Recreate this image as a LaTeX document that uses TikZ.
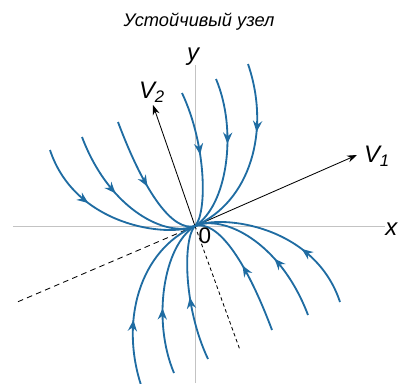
\documentclass[tikz,border=0pt]{standalone}
\usepackage{fontspec}
\setmainfont{Liberation Sans}
\usetikzlibrary{arrows.meta,decorations.markings}
\definecolor{trajblue}{RGB}{31,108,162}
\definecolor{axisgray}{RGB}{195,195,195}

\begin{document}
\begin{tikzpicture}[
  x=0.25cm, y=0.25cm,
  axis/.style={draw=axisgray,line width=0.7pt},
  vec/.style={draw=black,line width=0.6pt,-{Stealth[length=7pt,width=5pt]}},
  traj/.style={draw=trajblue,line width=1.3pt,postaction={decorate},
    decoration={markings,mark=at position #1 with {\arrow{Stealth[length=8pt,width=6.5pt]}}}},
  lbl/.style={font=\itshape\fontsize{13}{13}\selectfont,inner sep=0pt},
  biglbl/.style={lbl,font=\itshape\fontsize{17}{17}\selectfont}
]
  \useasboundingbox (-19.5,-15.7) rectangle (20.3,22.6);
  \coordinate (O) at (0,0);
  % axes
  \coordinate (xl) at (-18.2,0);
  \coordinate (xr) at (19.0,0);
  \coordinate (yb) at (0,-15.7);
  \coordinate (yt) at (0,16.1);
  \draw[axis] (xl) -- (xr);
  \draw[axis] (yb) -- (yt);
  % eigen directions
  \coordinate (v1) at (16.2,7.1);
  \coordinate (v2) at (-4.2,12.1);
  \coordinate (v1b) at (-18,-7.7);
  \coordinate (v2b) at (4.5,-12.4);
  \draw[dash pattern=on 4pt off 3pt,line width=0.6pt] (O) -- (v1b);
  \draw[dash pattern=on 2.5pt off 2pt,line width=0.6pt] (O) -- (v2b);
  \draw[vec] (O) -- (v1);
  \draw[vec] (O) -- (v2);
  % trajectories, the lower half is the upper half turned round O
  \foreach \r in {0,180}{
    \begin{scope}[rotate=\r]
      \coordinate (a) at (5.3,16.2);
      \coordinate (b) at (2.1,14.7);
      \coordinate (c) at (-1.3,13.3);
      \coordinate (d) at (-14.5,7.6);
      \coordinate (e) at (-11.3,8.9);
      \coordinate (f) at (-7.7,10.4);
      \draw[traj=0.37] (a) .. controls (7.6,9.5) and (5.5,2.4) .. (O);
      \draw[traj=0.42] (b) .. controls (4.3,9.5) and (3.2,2.0) .. (O);
      \draw[traj=0.47] (c) .. controls (1.2,8) and (1.2,1.2) .. (O);
      \draw[traj=0.37] (d) .. controls (-12,0) and (-2.75,-1.2) .. (O);
      \draw[traj=0.42] (e) .. controls (-8.5,1.5) and (-2.75,-1.2) .. (O);
      \draw[traj=0.52] (f) .. controls (-5,3.2) and (-2.2,-0.6) .. (O);
    \end{scope}
  }
  % labels
  \node[lbl] (ttl) at (0.4,20.4) {Устойчивый узел};
  \node[biglbl] (ylab) at (-0.2,16.9) {y};
  \node[biglbl,anchor=east] (xlab) at (20.25,-0.3) {x};
  \node[biglbl] (v2lab) at (-4.3,13.4) {V\textsubscript{2}};
  \node[biglbl] (v1lab) at (18.2,7.0) {V\textsubscript{1}};
  \node[lbl,font=\fontsize{16}{16}\selectfont] (olab) at (1.0,-1.0) {0};
\end{tikzpicture}
\end{document}
